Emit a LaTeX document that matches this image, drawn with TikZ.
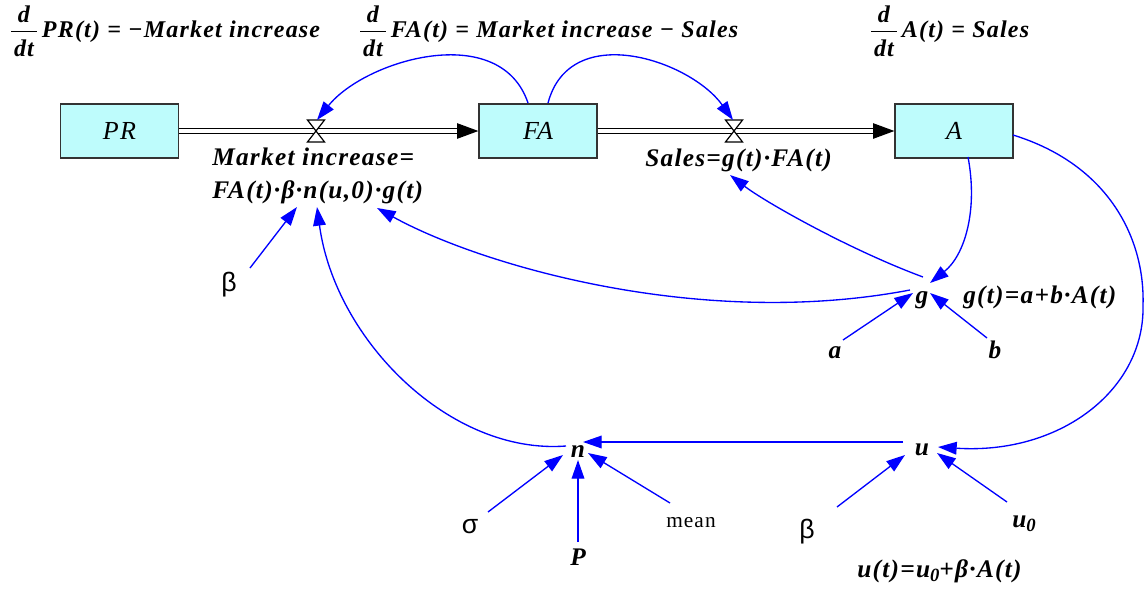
\documentclass[tikz,border=0pt]{standalone}
\usepackage{fontspec}
\setmainfont{Liberation Serif}
\newfontfamily\lab[LetterSpace=5]{Liberation Serif}
\newfontfamily\grk{Liberation Sans}
\usetikzlibrary{arrows.meta}
\definecolor{boxcyan}{RGB}{190,252,252}
\definecolor{linkblue}{RGB}{0,0,255}
\newcommand\subz[1]{\raisebox{-0.35ex}{\fontsize{14}{14}\selectfont #1}}
\newcommand\ddtfrac{\rlap{\raisebox{11.6pt}{\makebox[19pt][c]{d}}}\rlap{\rule[4.0pt]{19pt}{0.8pt}}\raisebox{-14.6pt}{\makebox[19pt][c]{dt}}\hspace{4pt}}
\begin{document}
\begin{tikzpicture}[x=0.75pt,y=-0.75pt,
  stock/.style={draw=black!80, line width=0.9pt, fill=boxcyan, minimum width=88.5pt, minimum height=40.5pt, inner sep=0pt, font=\fontsize{19.5}{22}\lab\itshape},
  lbl/.style={inner sep=0pt, font=\fontsize{19}{22}\lab\bfseries\itshape},
  eq/.style={inner sep=0pt, font=\fontsize{18}{22}\lab\bfseries\itshape},
  greek/.style={inner sep=0pt, font=\fontsize{20}{24}\grk},
  meanfont/.style={inner sep=0pt, font=\fontsize{16}{20}\lab},
  link/.style={draw=linkblue, line width=1pt, -{Triangle[length=14pt,width=9.5pt]}},
  pipe/.style={draw=black, double=white, double distance=2.8pt, line width=1.1pt, -{Triangle[length=16pt,width=11.5pt]}},
  valve/.pic={\filldraw[fill=white,draw=black,line width=0.9pt] (-6.4pt,-8.25pt) -- (6.4pt,-8.25pt) -- (0,0) -- cycle (-6.4pt,8.25pt) -- (6.4pt,8.25pt) -- (0,0) -- cycle;}
]
\useasboundingbox (0,0) rectangle (1144,592);

% stocks
\node[stock] (PR) at (119.5,131) {PR};
\node[stock] (FA) at (538,131) {FA};
\node[stock] (A) at (954,131) {A};

% pipes and valves
\coordinate (v1) at (316,131);
\coordinate (v2) at (734,131);
\draw[pipe] (PR.east) -- (FA.west);
\draw[pipe] (FA.east) -- (A.west);
\pic at (v1) {valve};
\pic at (v2) {valve};

% equations at top
\node[eq, anchor=base west] (eqPR) at (11,37.5) {\ddtfrac PR(t) = −Market increase};
\node[eq, anchor=base west] (eqFA) at (360,37.5) {\ddtfrac FA(t) = Market increase − Sales};
\node[eq, anchor=base west] (eqA) at (871,37.5) {\ddtfrac A(t) = Sales};

% labels
\node[lbl, anchor=base west] (mi1) at (212,165) {Market increase=};
\node[lbl, anchor=base west] (mi2) at (212,198) {FA(t)·β·n(u,0)·g(t)};
\node[lbl, anchor=base west] (sales) at (645,166) {Sales=g(t)·FA(t)};
\node[lbl, anchor=base] (g) at (922,303) {g};
\node[lbl, anchor=base west] (geq) at (963,303) {g(t)=a+b·A(t)};
\node[lbl, anchor=base] (a) at (835,358) {a};
\node[lbl, anchor=base] (b) at (995,358) {b};
\node[greek, anchor=base] (beta1) at (229,291) {β};
\node[lbl, anchor=base] (n) at (578,457) {n};
\node[lbl, anchor=base] (u) at (922,455) {u};
\node[greek, anchor=base] (sigma) at (470,533) {σ};
\node[lbl, anchor=base] (P) at (578,565) {P};
\node[meanfont, anchor=base] (mean) at (691,527) {mean};
\node[greek, anchor=base] (beta2) at (807,538) {β};
\node[lbl, anchor=base west] (u0) at (1012,527) {u\subz{0}};
\node[lbl, anchor=base west] (ueq) at (857,577) {u(t)=u\subz{0}+β·A(t)};

% connector end points
\coordinate (faL) at (528,103);
\coordinate (faR) at (548,103);
\coordinate (v1t) at (317,120);
\coordinate (v2t) at (733,120);
\coordinate (aB) at (968,157);
\coordinate (gNE) at (930,283);
\coordinate (aR) at (1013,135);
\coordinate (uE) at (938,447);
\coordinate (gNW) at (923,277);
\coordinate (salesG) at (730,175);
\coordinate (gW) at (910,290);
\coordinate (miG) at (377,208);
\coordinate (b1S) at (250,268);
\coordinate (miB) at (297,207);
\coordinate (nW) at (566,446);
\coordinate (miN) at (317,207);
\coordinate (uW) at (903,442);
\coordinate (nE) at (583,442);
\coordinate (sgS) at (488,512);
\coordinate (nSW) at (563,455);
\coordinate (pN) at (578,542);
\coordinate (nS) at (578,460);
\coordinate (meanS) at (670,503);
\coordinate (nSE) at (588,453);
\coordinate (b2S) at (837,507);
\coordinate (uSW) at (905,455);
\coordinate (u0S) at (1007,502);
\coordinate (uSE) at (937,453);
\coordinate (aS) at (843,340);
\coordinate (gSW) at (913,293);
\coordinate (bS) at (987,338);
\coordinate (gSE) at (930,293);

% blue connectors
\draw[link] (faL) .. controls (500,20) and (365,60) .. (v1t);
\draw[link] (faR) .. controls (570,20) and (690,60) .. (v2t);
\draw[link] (aB) .. controls (978,210) and (965,255) .. (gNE);
\draw[link] (aR) .. controls (1110,165) and (1145,240) .. (1143,305) .. controls (1145,390) and (1060,455) .. (uE);
\draw[link] (gNW) .. controls (850,250) and (765,202) .. (salesG);
\draw[link] (gW) .. controls (700,330) and (480,265) .. (miG);
\draw[link] (b1S) -- (miB);
\draw[link] (nW) .. controls (450,455) and (335,340) .. (miN);
\draw[link] (uW) -- (nE);
\draw[link] (sgS) -- (nSW);
\draw[link] (pN) -- (nS);
\draw[link] (meanS) -- (nSE);
\draw[link] (b2S) -- (uSW);
\draw[link] (u0S) -- (uSE);
\draw[link] (aS) -- (gSW);
\draw[link] (bS) -- (gSE);
\end{tikzpicture}
\end{document}
